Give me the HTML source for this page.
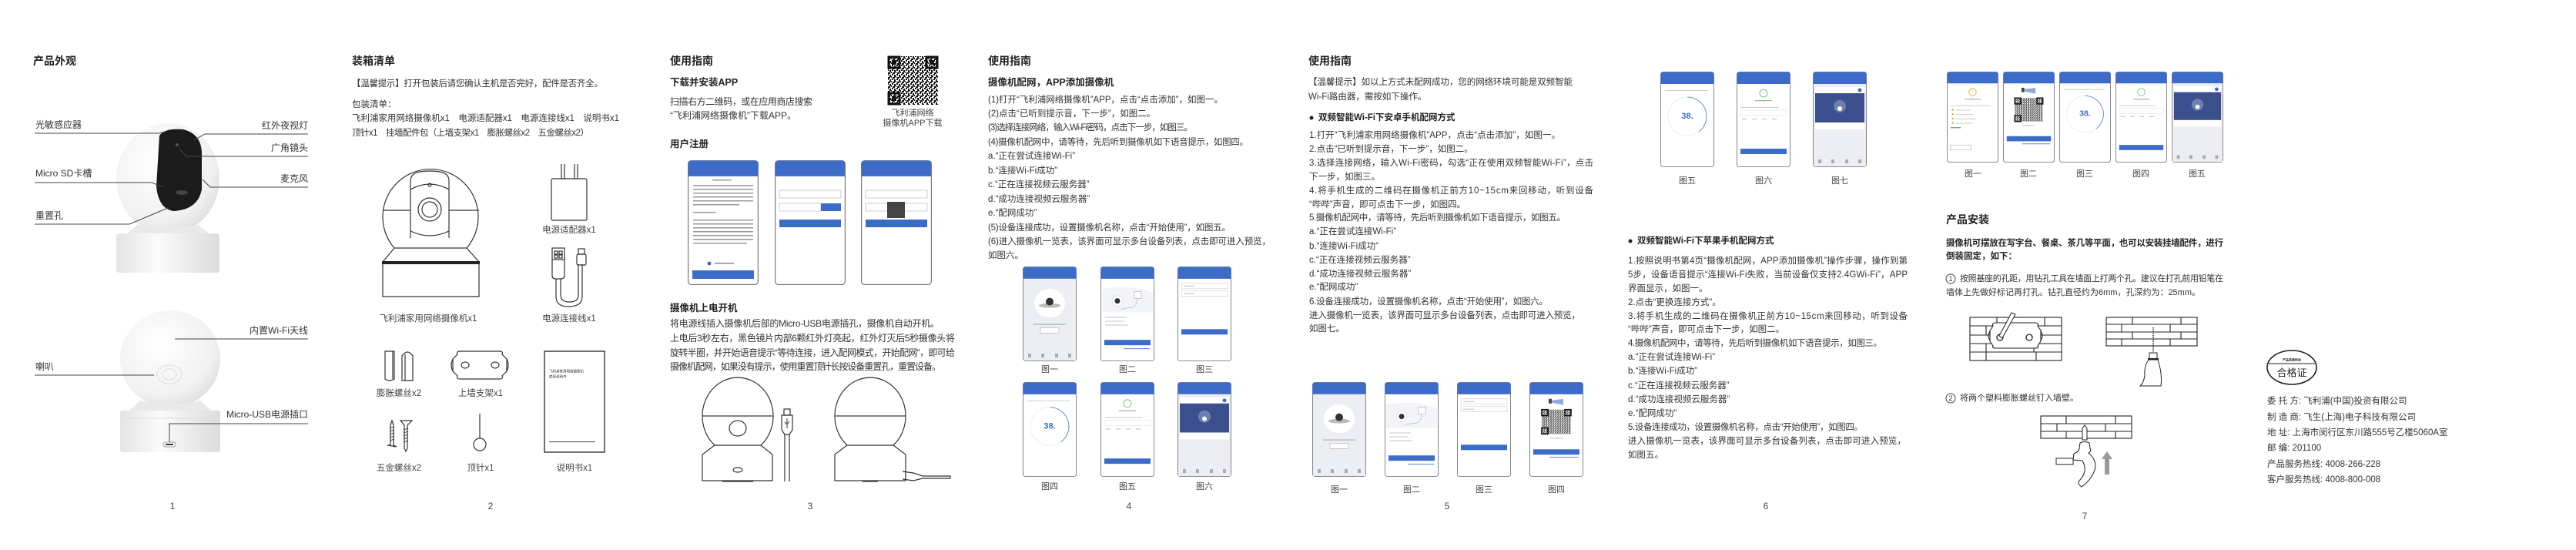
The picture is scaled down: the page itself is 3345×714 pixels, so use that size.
<!DOCTYPE html>
<html><head><meta charset="utf-8"><style>
html,body{margin:0;padding:0;background:#fff;width:3345px;height:714px;overflow:hidden}
svg text{font-family:"Liberation Sans","Noto Sans CJK SC",sans-serif;dominant-baseline:central;fill:#333}
.t{font-size:14px;font-weight:bold;fill:#222}
.s{font-size:12.5px;font-weight:bold;fill:#222}
.b{font-size:11.5px}
.l{font-size:12px}
.c{font-size:11px;fill:#444;text-anchor:middle}
.pn{font-size:12px;fill:#444;text-anchor:middle}
.ln{stroke:#444;stroke-width:1;fill:none}
.dr{stroke:#333;stroke-width:1.2;fill:none}
</style></head><body>
<svg width="3345" height="714" viewBox="0 0 3345 714" xmlns="http://www.w3.org/2000/svg">
<defs>
<radialGradient id="sph" cx="0.4" cy="0.35" r="0.75"><stop offset="0" stop-color="#ffffff"/><stop offset="0.7" stop-color="#f1f1f1"/><stop offset="1" stop-color="#d8d8d8"/></radialGradient>
<linearGradient id="base" x1="0" x2="1"><stop offset="0" stop-color="#e4e4e4"/><stop offset="0.4" stop-color="#fbfbfb"/><stop offset="1" stop-color="#dcdcdc"/></linearGradient>
<pattern id="qrp" width="6" height="6" patternUnits="userSpaceOnUse"><rect width="6" height="6" fill="#fff"/><rect x="0" y="0" width="2" height="2" fill="#111"/><rect x="3" y="1" width="2" height="3" fill="#111"/><rect x="1" y="4" width="3" height="2" fill="#111"/><rect x="5" y="3" width="1" height="2" fill="#111"/></pattern>
<pattern id="qrs" width="3" height="3" patternUnits="userSpaceOnUse"><rect width="3" height="3" fill="#fff"/><rect x="0" y="0" width="1" height="1" fill="#222"/><rect x="1.5" y="0.5" width="1" height="1.5" fill="#222"/><rect x="0.5" y="2" width="1.5" height="1" fill="#222"/></pattern>
<symbol id="frame" viewBox="0 0 70 124" preserveAspectRatio="none"><rect x="0.5" y="0.5" width="69" height="123" rx="3" fill="#fff" stroke="#666" stroke-width="0.8"/><path d="M0.5 16 V3.5 Q0.5 0.5 3.5 0.5 H66.5 Q69.5 0.5 69.5 3.5 V16 Z" fill="#3d6cc8"/></symbol>
<symbol id="home" viewBox="0 0 70 124" preserveAspectRatio="none"><use href="#frame" width="70" height="124"/><rect x="1" y="16" width="68" height="107" fill="#eceef3"/><ellipse cx="35" cy="48" rx="20" ry="19" fill="#fff"/><ellipse cx="35" cy="51" rx="14" ry="3" fill="#bbb"/><circle cx="35" cy="46" r="5" fill="#333"/><rect x="14" y="75" width="42" height="1.5" fill="#bbb"/><rect x="23" y="80" width="24" height="7" fill="#fff" stroke="#999" stroke-width="0.5"/><g fill="#aab"><rect x="7" y="114" width="4" height="5"/><rect x="24" y="114" width="4" height="5"/><rect x="42" y="114" width="4" height="5"/><rect x="59" y="114" width="4" height="5"/></g></symbol>
<symbol id="plug" viewBox="0 0 70 124" preserveAspectRatio="none"><use href="#frame" width="70" height="124"/><path d="M2 30 Q35 22 68 34 V60 H2Z" fill="#f3f4f7"/><circle cx="22" cy="45" r="7" fill="#fff" stroke="#ccc" stroke-width="0.5"/><circle cx="22" cy="45" r="3.5" fill="#333"/><rect x="44" y="33" width="9" height="9" fill="#fff" stroke="#999" stroke-width="0.5"/><path d="M48 42 q0 10 -8 12 q-8 0 -14 2" stroke="#999" stroke-width="0.5" fill="none"/><g fill="#ccc"><rect x="6" y="66" width="28" height="1.2"/><rect x="6" y="71" width="24" height="1.2"/><rect x="6" y="76" width="30" height="1.2"/></g><rect x="5" y="96" width="60" height="7" fill="#3d6cc8"/><rect x="30" y="107" width="34" height="1" fill="#5b83d6"/></symbol>
<symbol id="wifi" viewBox="0 0 70 124" preserveAspectRatio="none"><use href="#frame" width="70" height="124"/><rect x="5" y="22" width="60" height="7" fill="#fff" stroke="#ccc" stroke-width="0.6"/><rect x="5" y="32" width="60" height="7" fill="#fff" stroke="#ccc" stroke-width="0.6"/><g fill="#bbb"><rect x="8" y="25" width="14" height="1"/><rect x="8" y="35" width="14" height="1"/></g><rect x="5" y="82" width="60" height="7" fill="#3d6cc8"/></symbol>
<symbol id="n38" viewBox="0 0 70 124" preserveAspectRatio="none"><use href="#frame" width="70" height="124"/><rect x="6" y="24" width="56" height="1" fill="#ccc"/><circle cx="35" cy="58" r="25" fill="none" stroke="#eee" stroke-width="1"/><path d="M35 33 A25 25 0 0 1 50 78" fill="none" stroke="#4a76cf" stroke-width="0.8"/><text x="35" y="58" text-anchor="middle" style="font-size:11px;fill:#3d6cc8;font-weight:bold">38.</text></symbol>
<symbol id="done" viewBox="0 0 70 124" preserveAspectRatio="none"><use href="#frame" width="70" height="124"/><circle cx="35" cy="28" r="5" fill="none" stroke="#5b5" stroke-width="0.8"/><rect x="24" y="37" width="22" height="1.2" fill="#aaa"/><rect x="5" y="46" width="50" height="1" fill="#ccc"/><rect x="5" y="50" width="60" height="7" fill="#fff" stroke="#ddd" stroke-width="0.5"/><g fill="#bbb"><rect x="7" y="61" width="6" height="1"/><rect x="20" y="61" width="6" height="1"/><rect x="33" y="61" width="6" height="1"/><rect x="46" y="61" width="6" height="1"/></g><rect x="5" y="100" width="60" height="7" fill="#3d6cc8"/></symbol>
<symbol id="list" viewBox="0 0 70 124" preserveAspectRatio="none"><use href="#frame" width="70" height="124"/><rect x="1" y="16" width="68" height="107" fill="#eceef3"/><rect x="3" y="20" width="64" height="55" fill="#fff"/><circle cx="61" cy="24" r="2.5" fill="#3d6cc8"/><rect x="3" y="28" width="64" height="38" fill="#3b4f8e"/><circle cx="35" cy="45" r="8" fill="#6f80ad"/><circle cx="35" cy="48" r="3" fill="#fff"/><g fill="#aab"><rect x="7" y="114" width="4" height="5"/><rect x="24" y="114" width="4" height="5"/><rect x="42" y="114" width="4" height="5"/><rect x="59" y="114" width="4" height="5"/></g></symbol>
<symbol id="qrph" viewBox="0 0 70 124" preserveAspectRatio="none"><use href="#frame" width="70" height="124"/><rect x="25" y="22" width="4" height="6" fill="#444"/><path d="M29 24 L44 22 V30 L29 27Z" fill="#8fa9dd"/><rect x="16" y="36" width="38" height="32" fill="url(#qrs)"/><rect x="16" y="36" width="8" height="8" fill="none" stroke="#111" stroke-width="1.6"/><rect x="46" y="36" width="8" height="8" fill="none" stroke="#111" stroke-width="1.6"/><rect x="16" y="60" width="8" height="8" fill="none" stroke="#111" stroke-width="1.6"/><rect x="27" y="73" width="16" height="1" fill="#bbb"/><rect x="5" y="88" width="60" height="7" fill="#3d6cc8"/><rect x="26" y="98" width="38" height="1" fill="#5b83d6"/></symbol>
<symbol id="fail" viewBox="0 0 70 124" preserveAspectRatio="none"><use href="#frame" width="70" height="124"/><circle cx="35" cy="28" r="5" fill="none" stroke="#f0a020" stroke-width="0.9"/><rect x="24" y="37" width="22" height="1.2" fill="#aaa"/><g fill="#f0a020"><circle cx="8" cy="52" r="1.3"/><circle cx="8" cy="58" r="1.3"/><circle cx="8" cy="64" r="1.3"/><circle cx="8" cy="70" r="1.3"/></g><g fill="#ccc"><rect x="5" y="46" width="55" height="1"/><rect x="12" y="52" width="20" height="1"/><rect x="12" y="58" width="24" height="1"/><rect x="12" y="64" width="28" height="1"/><rect x="12" y="70" width="22" height="1"/></g><rect x="5" y="76" width="14" height="1" fill="#3d6cc8"/><rect x="5" y="100" width="28" height="7" fill="#fff" stroke="#999" stroke-width="0.5"/></symbol>
</defs>

<!-- ========== PAGE 1 ========== -->
<text class="t" x="43" y="79">产品外观</text>
<!-- camera 1 -->
<ellipse cx="218" cy="232" rx="67" ry="72" fill="url(#sph)"/>
<path d="M178 292 Q218 300 258 292 L272 304 H164Z" fill="#e9e9e9"/>
<rect x="151" y="303" width="134" height="51" rx="4" fill="url(#base)"/>
<path d="M207 176 Q214 166 238 168 Q262 174 262 200 L262 246 Q257 272 226 274 Q206 272 203 242 Z" fill="#1b1b1b"/>
<circle cx="230" cy="188" r="2" fill="#555"/><ellipse cx="236" cy="250" rx="8" ry="3" fill="#444"/>
<!-- camera 2 -->
<ellipse cx="221" cy="466" rx="65" ry="63" fill="url(#sph)"/>
<path d="M182 520 Q221 530 260 520 L274 533 H168Z" fill="#e9e9e9"/>
<rect x="156" y="533" width="130" height="54" rx="3" fill="url(#base)"/>
<line x1="158" y1="543" x2="284" y2="543" stroke="#ddd"/>
<ellipse cx="220" cy="486" rx="16" ry="12" fill="none" stroke="#ccc" stroke-dasharray="1.5 2" stroke-width="1.5"/>
<ellipse cx="220" cy="486" rx="9" ry="7" fill="none" stroke="#ccc" stroke-dasharray="1.5 2" stroke-width="1.5"/>
<rect x="212" y="574" width="16" height="6" rx="3" fill="#fff" stroke="#999"/><rect x="215" y="576" width="10" height="2" fill="#333"/>
<!-- labels -->
<text class="l" x="46" y="162">光敏感应器</text>
<polyline class="ln" points="45,173 207,173 214,171"/>
<text class="l" x="400" y="163" text-anchor="end">红外夜视灯</text>
<polyline class="ln" points="252,182 266,174 400,174"/>
<text class="l" x="400" y="192" text-anchor="end">广角镜头</text>
<polyline class="ln" points="232,192 242,203 400,203"/>
<text class="l" x="46" y="225">Micro SD卡槽</text>
<polyline class="ln" points="45,237 197,237 212,243"/>
<text class="l" x="400" y="232" text-anchor="end">麦克风</text>
<polyline class="ln" points="263,233 273,243 400,243"/>
<text class="l" x="46" y="280">重置孔</text>
<polyline class="ln" points="45,291 168,291 218,270"/>
<text class="l" x="400" y="429" text-anchor="end">内置Wi-Fi天线</text>
<line class="ln" x1="227" y1="440" x2="400" y2="440"/>
<text class="l" x="46" y="476">喇叭</text>
<line class="ln" x1="45" y1="487" x2="200" y2="487"/>
<text class="l" x="400" y="538" text-anchor="end">Micro-USB电源插口</text>
<polyline class="ln" points="220,574 220,550 400,550"/>
<text class="pn" x="224" y="657">1</text>

<!-- ========== PAGE 2 ========== -->
<text class="t" x="457" y="79">装箱清单</text>
<text class="b" x="457" y="109" textLength="326">【温馨提示】打开包装后请您确认主机是否完好，配件是否齐全。</text>
<text class="b" x="457" y="136">包装清单：</text>
<text class="b" x="457" y="154" textLength="347">飞利浦家用网络摄像机x1　电源适配器x1　电源连接线x1　说明书x1</text>
<text class="b" x="457" y="173" textLength="308">顶针x1　挂墙配件包（上墙支架x1　膨胀螺丝x2　五金螺丝x2）</text>
<!-- camera line drawing -->
<path class="dr" d="M512 322 A62 62 0 1 1 606 322"/>
<line class="dr" x1="497" y1="273" x2="533" y2="273"/><line class="dr" x1="583" y1="273" x2="622" y2="273"/>
<path class="dr" d="M533 309 V235 Q533 225 545 223 Q558 221 571 223 Q583 225 583 235 V309"/>
<path class="dr" d="M533 246 Q558 232 583 246"/><path class="dr" d="M533 300 Q558 312 583 300"/>
<circle class="dr" cx="558" cy="272" r="15"/><circle class="dr" cx="558" cy="272" r="10"/><circle class="dr" cx="558" cy="240" r="2"/>
<path class="dr" d="M512 322 L497 340 H622 L606 322 Z"/>
<rect x="496" y="339" width="127" height="4" fill="#222"/>
<path class="dr" d="M497 343 V385 H622 V343"/>
<text class="c" x="556" y="414" style="font-size:11.5px">飞利浦家用网络摄像机x1</text>
<!-- adapter -->
<rect class="dr" x="716" y="232" width="46" height="54" rx="2"/>
<line class="dr" x1="729" y1="213" x2="729" y2="232"/><line class="dr" x1="733" y1="213" x2="733" y2="232"/>
<line class="dr" x1="746" y1="213" x2="746" y2="232"/><line class="dr" x1="750" y1="213" x2="750" y2="232"/>
<text class="c" x="739" y="299" style="font-size:11.5px">电源适配器x1</text>
<!-- cable -->
<rect class="dr" x="717" y="322" width="16" height="15"/><rect class="dr" x="720" y="326" width="4" height="4"/><rect class="dr" x="726" y="326" width="4" height="4"/><rect class="dr" x="720" y="331" width="4" height="4"/><rect class="dr" x="726" y="331" width="4" height="4"/>
<path class="dr" d="M717 337 V358 Q717 362 722 362 H728 Q733 362 733 358 V337"/>
<path class="dr" d="M722 362 V385 Q722 398 738 398 Q756 398 756 385 V343"/><path class="dr" d="M728 362 V383 Q728 392 740 392 Q751 392 751 383 V343"/>
<rect class="dr" x="749" y="330" width="12" height="14" rx="2"/><rect class="dr" x="751" y="323" width="8" height="7"/>
<text class="c" x="739" y="414" style="font-size:11.5px">电源连接线x1</text>
<!-- anchors -->
<path class="dr" d="M500 456 H512 V492 Q506 496 500 492Z"/><line class="dr" x1="510" y1="456" x2="510" y2="492"/>
<path class="dr" d="M522 462 Q529 452 536 462 V494 H522Z"/><line class="dr" x1="526" y1="460" x2="526" y2="494"/>
<text class="c" x="518" y="511" style="font-size:11.5px">膨胀螺丝x2</text>
<!-- bracket -->
<path class="dr" d="M594 460 Q592 456 598 456 H648 Q654 456 652 460 L658 466 V482 L652 488 Q654 492 648 492 H598 Q592 492 594 488 L588 482 V466Z"/>
<path class="dr" d="M588 466 Q584 474 588 482"/><path class="dr" d="M658 466 Q662 474 658 482"/>
<ellipse class="dr" cx="604" cy="474" rx="5" ry="4"/><ellipse class="dr" cx="643" cy="474" rx="5" ry="4"/>
<text class="c" x="624" y="511" style="font-size:11.5px">上墙支架x1</text>
<!-- screws -->
<path class="dr" d="M503 578 L507 578 V552 L509 546 L511 552 V578 L515 580 Z"/>
<path d="M506 556 l6 -2 M506 560 l6 -2 M506 564 l6 -2 M506 568 l6 -2 M506 572 l6 -2" stroke="#333" stroke-width="0.8"/>
<path class="dr" d="M520 546 H535 L529 552 V582 L527 586 L525 582 V552 Z"/>
<path d="M524 558 l6 -2 M524 562 l6 -2 M524 566 l6 -2 M524 570 l6 -2 M524 574 l6 -2" stroke="#333" stroke-width="0.8"/>
<text class="c" x="518" y="608" style="font-size:11.5px">五金螺丝x2</text>
<!-- pin -->
<line class="dr" x1="623" y1="537" x2="623" y2="569"/><circle class="dr" cx="623" cy="577" r="8"/>
<text class="c" x="624" y="608" style="font-size:11.5px">顶针x1</text>
<!-- manual -->
<rect x="707" y="456" width="78" height="131" fill="#fff" stroke="#222" stroke-width="1.3"/>
<text x="713" y="482" style="font-size:4.5px;fill:#333">飞利浦家用网络摄像机</text>
<text x="713" y="489" style="font-size:4.5px;fill:#333">使用说明书</text>
<rect x="713" y="573" width="60" height="1.2" fill="#666"/>
<text class="c" x="746" y="608" style="font-size:11.5px">说明书x1</text>
<text class="pn" x="637" y="657">2</text>

<!-- ========== PAGE 3 ========== -->
<text class="t" x="870" y="79">使用指南</text>
<text class="s" x="870" y="107">下载并安装APP</text>
<text x="870" y="132" style="font-size:12px" textLength="185">扫描右方二维码，或在应用商店搜索</text>
<text x="870" y="150" style="font-size:12px">“飞利浦网络摄像机”下载APP。</text>
<rect x="1153" y="73" width="65" height="63" fill="url(#qrp)"/>
<rect x="1154" y="74" width="14" height="14" fill="none" stroke="#111" stroke-width="3"/><rect x="1158" y="78" width="6" height="6" fill="#111"/>
<rect x="1203" y="74" width="14" height="14" fill="none" stroke="#111" stroke-width="3"/><rect x="1207" y="78" width="6" height="6" fill="#111"/>
<rect x="1154" y="121" width="14" height="14" fill="none" stroke="#111" stroke-width="3"/><rect x="1158" y="125" width="6" height="6" fill="#111"/>
<text class="c" x="1185" y="147">飞利浦网络</text>
<text class="c" x="1185" y="160">摄像机APP下载</text>
<text class="s" x="870" y="187">用户注册</text>
<!-- register phones -->
<use href="#frame" x="893" y="208" width="92" height="162"/>
<g fill="#999"><rect x="900" y="240" width="78" height="1.5"/><rect x="900" y="245" width="78" height="1.5"/><rect x="900" y="250" width="78" height="1.5"/><rect x="900" y="255" width="78" height="1.5"/><rect x="900" y="260" width="78" height="1.5"/><rect x="900" y="265" width="60" height="1.5"/><rect x="900" y="275" width="30" height="1.5"/><rect x="900" y="285" width="78" height="1.5"/><rect x="900" y="290" width="78" height="1.5"/><rect x="900" y="295" width="78" height="1.5"/><rect x="900" y="300" width="78" height="1.5"/><rect x="900" y="305" width="78" height="1.5"/><rect x="900" y="310" width="78" height="1.5"/><rect x="900" y="315" width="70" height="1.5"/><rect x="925" y="233" width="25" height="1.5"/></g>
<circle cx="921" cy="342" r="2.5" fill="#3d6cc8"/><rect x="928" y="341" width="25" height="1.5" fill="#888"/>
<rect x="899" y="351" width="80" height="11" fill="#3d6cc8"/>
<use href="#frame" x="1006" y="208" width="92" height="162"/>
<rect x="1012" y="247" width="80" height="10" fill="#fff" stroke="#ccc"/><rect x="1012" y="264" width="54" height="10" fill="#fff" stroke="#ccc"/><rect x="1066" y="264" width="26" height="10" fill="#3d6cc8"/>
<rect x="1012" y="285" width="80" height="10" fill="#3d6cc8"/>
<use href="#frame" x="1118" y="208" width="92" height="162"/>
<rect x="1124" y="247" width="80" height="10" fill="#fff" stroke="#ccc"/><rect x="1124" y="264" width="80" height="10" fill="#fff" stroke="#ccc"/>
<rect x="1124" y="285" width="80" height="10" fill="#3d6cc8"/><rect x="1152" y="262" width="23" height="21" fill="#444"/>
<text class="s" x="870" y="400">摄像机上电开机</text>
<text x="870" y="420" style="font-size:12px" textLength="350">将电源线插入摄像机后部的Micro-USB电源插孔，摄像机自动开机。</text>
<text x="870" y="439" style="font-size:12px" textLength="370">上电后3秒左右，黑色镜片内部6颗红外灯亮起，红外灯灭后5秒摄像头将</text>
<text x="870" y="458" style="font-size:12px" textLength="370">旋转半圈，并开始语音提示“等待连接，进入配网模式，开始配网”，即可给</text>
<text x="870" y="476" style="font-size:12px" textLength="352">摄像机配网，如果没有提示，使用重置顶针长按设备重置孔，重置设备。</text>
<!-- power-on drawings -->
<path class="dr" d="M928 578 A46 50 0 1 1 988 578"/>
<line class="dr" x1="912" y1="540" x2="1003" y2="540"/>
<ellipse class="dr" cx="958" cy="556" rx="11" ry="10"/>
<path class="dr" d="M928 578 L912 590 V624 H1003 V590 L988 578 Z"/>
<ellipse class="dr" cx="958" cy="610" rx="6" ry="3"/><line class="dr" x1="938" y1="625" x2="978" y2="625"/>
<rect class="dr" x="1018" y="531" width="8" height="8"/><path class="dr" d="M1015 539 H1029 V558 L1025 564 H1019 L1015 558Z"/><path class="dr" d="M1019 564 V625 M1025 564 V625"/>
<path d="M1022 543 V556 M1019 548 L1022 551 L1025 547" stroke="#333" fill="none"/>
<path class="dr" d="M1100 578 A46 50 0 1 1 1160 578"/>
<line class="dr" x1="1085" y1="540" x2="1176" y2="540"/>
<path class="dr" d="M1100 578 L1084 590 V624 H1176 V590 L1160 578 Z"/>
<path class="dr" d="M1172 612 L1186 614 L1198 618 H1234 V621 H1198 L1186 624 L1172 622"/>
<line class="dr" x1="1120" y1="625" x2="1140" y2="625"/>
<text class="pn" x="1052" y="657">3</text>

<!-- ========== PAGE 4 ========== -->
<text class="t" x="1283" y="79">使用指南</text>
<text class="s" x="1283" y="107">摄像机配网，APP添加摄像机</text>
<g class="b">
<text x="1283" y="130" style="font-size:11.5px" textLength="305">(1)打开“飞利浦网络摄像机”APP，点击“点击添加”，如图一。</text>
<text x="1283" y="148" style="font-size:11.5px">(2)点击“已听到提示音，下一步”，如图二。</text>
<text x="1283" y="166" style="font-size:11.5px" textLength="266">(3)选择连接网络，输入Wi-Fi密码，点击下一步，如图三。</text>
<text x="1283" y="185" style="font-size:11.5px" textLength="338">(4)摄像机配网中，请等待，先后听到摄像机如下语音提示，如图四。</text>
<text x="1283" y="203" style="font-size:11.5px">a.“正在尝试连接Wi-Fi”</text>
<text x="1283" y="222" style="font-size:11.5px">b.“连接Wi-Fi成功”</text>
<text x="1283" y="240" style="font-size:11.5px">c.“正在连接视频云服务器”</text>
<text x="1283" y="259" style="font-size:11.5px">d.“成功连接视频云服务器”</text>
<text x="1283" y="277" style="font-size:11.5px">e.“配网成功”</text>
<text x="1283" y="296" style="font-size:11.5px" textLength="315">(5)设备连接成功，设置摄像机名称，点击“开始使用”，如图五。</text>
<text x="1283" y="314" style="font-size:11.5px" textLength="367">(6)进入摄像机一览表，该界面可显示多台设备列表，点击即可进入预览，</text>
<text x="1283" y="332" style="font-size:11.5px">如图六。</text>
</g>
<use href="#home" x="1328" y="346" width="70" height="123"/>
<use href="#plug" x="1429" y="346" width="70" height="123"/>
<use href="#wifi" x="1529" y="346" width="70" height="123"/>
<text class="c" x="1363" y="480">图一</text><text class="c" x="1464" y="480">图二</text><text class="c" x="1564" y="480">图三</text>
<use href="#n38" x="1328" y="496" width="70" height="123"/>
<use href="#done" x="1429" y="496" width="70" height="123"/>
<use href="#list" x="1529" y="496" width="70" height="123"/>
<text class="c" x="1363" y="632">图四</text><text class="c" x="1464" y="632">图五</text><text class="c" x="1564" y="632">图六</text>
<text class="pn" x="1466" y="657">4</text>

<!-- ========== PAGE 5 ========== -->
<text class="t" x="1699" y="79">使用指南</text>
<text x="1699" y="107" style="font-size:11.5px" textLength="343">【温馨提示】如以上方式未配网成功，您的网络环境可能是双频智能</text>
<text x="1699" y="126" style="font-size:11.5px">Wi-Fi路由器，需按如下操作。</text>
<circle cx="1703" cy="153" r="2.5" fill="#222"/>
<text x="1712" y="153" style="font-size:11.5px;font-weight:bold;fill:#222">双频智能Wi-Fi下安卓手机配网方式</text>
<g>
<text x="1700" y="176" style="font-size:11.5px" textLength="326">1.打开“飞利浦家用网络摄像机”APP，点击“点击添加”，如图一。</text>
<text x="1700" y="194" style="font-size:11.5px">2.点击“已听到提示音，下一步”，如图二。</text>
<text x="1700" y="212" style="font-size:11.5px" textLength="369">3.选择连接网络，输入Wi-Fi密码，勾选“正在使用双频智能Wi-Fi”，点击</text>
<text x="1700" y="230" style="font-size:11.5px">下一步，如图三。</text>
<text x="1700" y="248" style="font-size:11.5px" textLength="369">4.将手机生成的二维码在摄像机正前方10~15cm来回移动，听到设备</text>
<text x="1700" y="266" style="font-size:11.5px">“哔哔”声音，即可点击下一步，如图四。</text>
<text x="1700" y="283" style="font-size:11.5px" textLength="333">5.摄像机配网中，请等待，先后听到摄像机如下语音提示，如图五。</text>
<text x="1700" y="301" style="font-size:11.5px">a.“正在尝试连接Wi-Fi”</text>
<text x="1700" y="320" style="font-size:11.5px">b.“连接Wi-Fi成功”</text>
<text x="1700" y="338" style="font-size:11.5px">c.“正在连接视频云服务器”</text>
<text x="1700" y="356" style="font-size:11.5px">d.“成功连接视频云服务器”</text>
<text x="1700" y="373" style="font-size:11.5px">e.“配网成功”</text>
<text x="1700" y="392" style="font-size:11.5px" textLength="310">6.设备连接成功，设置摄像机名称，点击“开始使用”，如图六。</text>
<text x="1700" y="410" style="font-size:11.5px" textLength="352">进入摄像机一览表，该界面可显示多台设备列表，点击即可进入预览，</text>
<text x="1700" y="427" style="font-size:11.5px">如图七。</text>
</g>
<use href="#home" x="1704" y="496" width="70" height="123"/>
<use href="#plug" x="1798" y="496" width="70" height="123"/>
<use href="#wifi" x="1892" y="496" width="70" height="123"/>
<use href="#qrph" x="1986" y="496" width="70" height="123"/>
<text class="c" x="1739" y="636">图一</text><text class="c" x="1833" y="636">图二</text><text class="c" x="1927" y="636">图三</text><text class="c" x="2021" y="636">图四</text>
<text class="pn" x="1879" y="657">5</text>

<!-- ========== PAGE 6 ========== -->
<use href="#n38" x="2156" y="93" width="70" height="124"/>
<use href="#done" x="2255" y="93" width="70" height="124"/>
<use href="#list" x="2354" y="93" width="70" height="124"/>
<text class="c" x="2191" y="235">图五</text><text class="c" x="2290" y="235">图六</text><text class="c" x="2389" y="235">图七</text>
<circle cx="2117" cy="313" r="2.5" fill="#222"/>
<text x="2126" y="313" style="font-size:11.5px;font-weight:bold;fill:#222">双频智能Wi-Fi下苹果手机配网方式</text>
<g>
<text x="2114" y="339" style="font-size:11.5px" textLength="363">1.按照说明书第4页“摄像机配网，APP添加摄像机”操作步骤，操作到第</text>
<text x="2114" y="357" style="font-size:11.5px" textLength="363">5步，设备语音提示“连接Wi-Fi失败，当前设备仅支持2.4GWi-Fi”，APP</text>
<text x="2114" y="375" style="font-size:11.5px">界面显示，如图一。</text>
<text x="2114" y="393" style="font-size:11.5px">2.点击“更换连接方式”。</text>
<text x="2114" y="411" style="font-size:11.5px" textLength="363">3.将手机生成的二维码在摄像机正前方10~15cm来回移动，听到设备</text>
<text x="2114" y="428" style="font-size:11.5px">“哔哔”声音，即可点击下一步，如图二。</text>
<text x="2114" y="446" style="font-size:11.5px" textLength="330">4.摄像机配网中，请等待，先后听到摄像机如下语音提示，如图三。</text>
<text x="2114" y="464" style="font-size:11.5px">a.“正在尝试连接Wi-Fi”</text>
<text x="2114" y="482" style="font-size:11.5px">b.“连接Wi-Fi成功”</text>
<text x="2114" y="501" style="font-size:11.5px">c.“正在连接视频云服务器”</text>
<text x="2114" y="519" style="font-size:11.5px">d.“成功连接视频云服务器”</text>
<text x="2114" y="537" style="font-size:11.5px">e.“配网成功”</text>
<text x="2114" y="555" style="font-size:11.5px" textLength="305">5.设备连接成功，设置摄像机名称，点击“开始使用”，如图四。</text>
<text x="2114" y="573" style="font-size:11.5px" textLength="361">进入摄像机一览表，该界面可显示多台设备列表，点击即可进入预览，</text>
<text x="2114" y="591" style="font-size:11.5px">如图五。</text>
</g>
<text class="pn" x="2293" y="657">6</text>

<!-- ========== PAGE 7 ========== -->
<use href="#fail" x="2528" y="93" width="67" height="118"/>
<use href="#qrph" x="2601" y="93" width="67" height="118"/>
<use href="#n38" x="2674" y="93" width="67" height="118"/>
<use href="#done" x="2747" y="93" width="67" height="118"/>
<use href="#list" x="2820" y="93" width="67" height="118"/>
<text class="c" x="2562" y="226">图一</text><text class="c" x="2634" y="226">图二</text><text class="c" x="2707" y="226">图三</text><text class="c" x="2780" y="226">图四</text><text class="c" x="2853" y="226">图五</text>
<text class="t" x="2527" y="285">产品安装</text>
<text x="2527" y="316" style="font-size:11.5px;font-weight:bold;fill:#222" textLength="360">摄像机可摆放在写字台、餐桌、茶几等平面，也可以安装挂墙配件，进行</text>
<text x="2527" y="333" style="font-size:11.5px;font-weight:bold;fill:#222">倒装固定，如下：</text>
<circle cx="2533" cy="362" r="6" fill="none" stroke="#444"/><text x="2533" y="362" text-anchor="middle" style="font-size:9px">1</text>
<text x="2545" y="362" style="font-size:11px" textLength="342">按照基座的孔距，用钻孔工具在墙面上打两个孔。建议在打孔前用铅笔在</text>
<text x="2527" y="380" style="font-size:11px">墙体上先做好标记再打孔。钻孔直径约为6mm，孔深约为：25mm。</text>
<!-- wall 1 -->
<g stroke="#222" stroke-width="1.1" fill="none">
<rect x="2558" y="412" width="119" height="56"/>
<path d="M2558 423 H2677 M2558 435 H2677 M2558 446 H2677 M2558 457 H2677"/>
<path d="M2593 412 V423 M2655 412 V423 M2579 423 V435 M2641 423 V435 M2593 435 V446 M2579 446 V457 M2641 446 V457 M2579 457 V468 M2644 457 V468"/>
</g>
<path d="M2588 423 Q2586 419 2592 419 H2642 Q2648 419 2646 423 L2650 429 V443 L2646 449 Q2648 452 2642 452 H2592 Q2586 452 2588 449 L2584 443 V429Z" fill="#fff" stroke="#222" stroke-width="1.1"/>
<path d="M2584 430 Q2580 436 2584 442 M2650 430 Q2654 436 2650 442" stroke="#222" fill="none"/>
<circle cx="2597" cy="438" r="4" fill="none" stroke="#222" stroke-width="1.3"/><circle cx="2635" cy="438" r="4" fill="none" stroke="#222" stroke-width="1.3"/>
<path d="M2596 436 L2612 406 L2617 408 L2600 439Z" fill="#fff" stroke="#222"/>
<!-- wall 2 -->
<g stroke="#222" stroke-width="1.1" fill="none">
<rect x="2735" y="412" width="118" height="37"/>
<path d="M2735 421 H2853 M2735 431 H2853 M2735 440 H2853"/>
<path d="M2769 412 V421 M2832 412 V421 M2755 421 V431 M2818 421 V431 M2769 431 V440 M2832 431 V440 M2755 440 V449 M2818 440 V449"/>
</g>
<line x1="2796" y1="425" x2="2796" y2="458" stroke="#333" stroke-width="1.5" stroke-dasharray="1.5 1"/>
<rect x="2791" y="458" width="10" height="8" fill="#fff" stroke="#222"/><rect x="2789" y="465" width="14" height="2" fill="#222"/>
<path d="M2790 467 Q2784 475 2785 488 Q2783 498 2779 501 H2806 Q2808 485 2802 467Z" fill="#fff" stroke="#222"/>
<circle cx="2533" cy="517" r="6" fill="none" stroke="#444"/><text x="2533" y="517" text-anchor="middle" style="font-size:9px">2</text>
<text x="2545" y="517" style="font-size:11px">将两个塑料膨胀螺丝钉入墙壁。</text>
<!-- wall 3 -->
<g stroke="#222" stroke-width="1.1" fill="none">
<rect x="2650" y="540" width="118" height="29"/>
<path d="M2650 550 H2768 M2650 560 H2768"/>
<path d="M2683 540 V550 M2747 540 V550 M2671 550 V560 M2734 550 V560 M2683 560 V569 M2747 560 V569"/>
</g>
<path d="M2704 556 L2707 552 L2710 556 V571 H2704Z" fill="#fff" stroke="#222"/>
<path d="M2701 575 Q2707 572 2713 575 L2714 582 Q2716 586 2712 588 Q2726 600 2718 615 Q2712 626 2703 632 Q2697 628 2700 624 Q2712 612 2704 598 L2692 597 L2693 589 Q2700 586 2700 582Z" fill="#fff" stroke="#222"/>
<rect x="2670" y="595" width="22" height="8" fill="#fff" stroke="#222"/>
<path d="M2733 616 V596 H2729 L2736 586 L2743 596 H2739 V616Z" fill="#999"/>
<text class="pn" x="2707" y="670">7</text>
<!-- certificate -->
<ellipse cx="2976" cy="477" rx="32" ry="22" fill="#fff" stroke="#222" stroke-width="1.6"/>
<line x1="2946" y1="472" x2="3006" y2="472" stroke="#222"/>
<text x="2976" y="467" text-anchor="middle" style="font-size:4px;font-weight:bold;fill:#222">产品质量检验</text>
<text x="2976" y="484" text-anchor="middle" style="font-size:13px;fill:#222">合格证</text>
<text x="2944" y="521" style="font-size:11.5px">委 托 方: 飞利浦(中国)投资有限公司</text>
<text x="2944" y="542" style="font-size:11.5px">制 造 商: 飞生(上海)电子科技有限公司</text>
<text x="2944" y="562" style="font-size:11.5px">地 址: 上海市闵行区东川路555号乙楼5060A室</text>
<text x="2944" y="582" style="font-size:11.5px">邮 编: 201100</text>
<text x="2944" y="603" style="font-size:11.5px">产品服务热线: 4008-266-228</text>
<text x="2944" y="623" style="font-size:11.5px">客户服务热线: 4008-800-008</text>
</svg>
</body></html>
